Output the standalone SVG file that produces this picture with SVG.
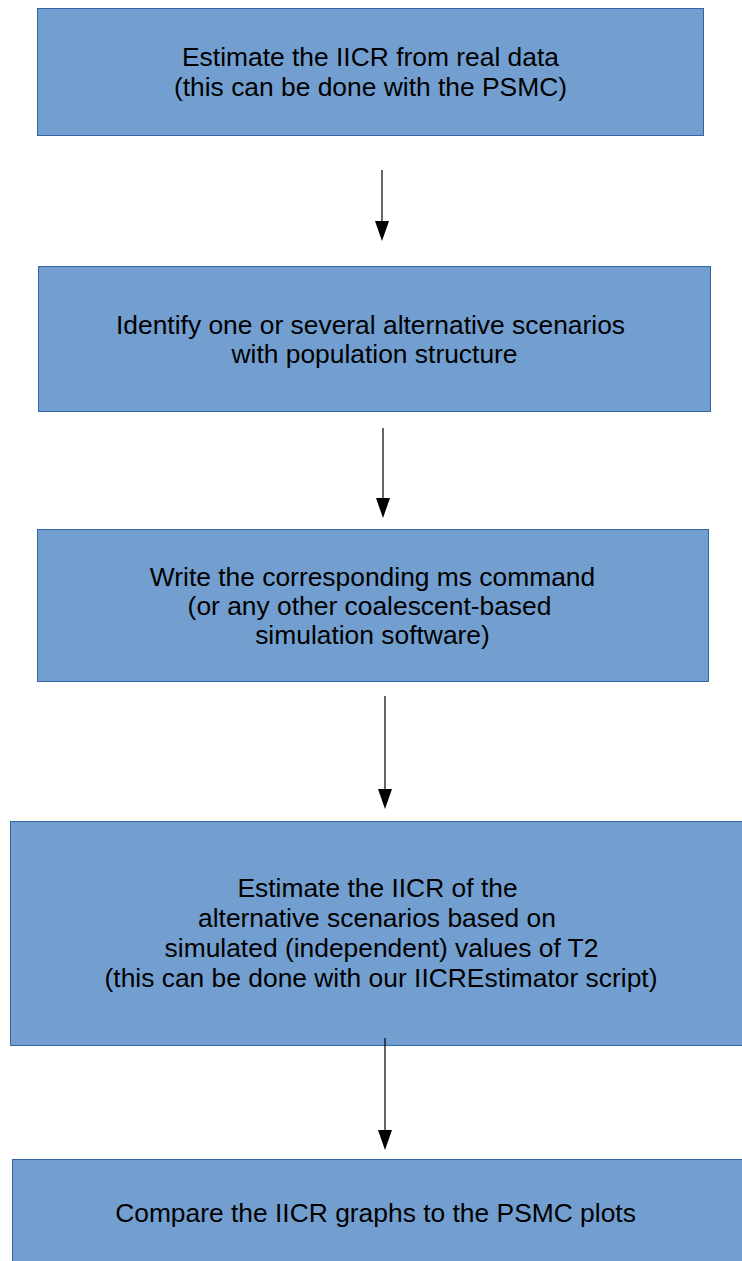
<svg xmlns="http://www.w3.org/2000/svg" width="742" height="1261" viewBox="0 0 742 1261">
  <style>
    .box { fill: #729fcf; stroke: #3465a4; stroke-width: 1; }
    .label { font-family: "Liberation Sans", Arial, sans-serif; font-size: 26.4px; fill: #000; text-anchor: middle; }
    .link { stroke: #000; stroke-width: 1.2; fill: none; }
    .head { fill: #000; }
  </style>
  <rect width="742" height="1261" fill="#fff"/>

  <g id="step-estimate-real">
    <rect class="box" x="37.5" y="8.5" width="666" height="127"/>
    <text class="label" x="370.5" y="66">Estimate the IICR from real data</text>
    <text class="label" x="370.5" y="96">(this can be done with the PSMC)</text>
  </g>

  <g id="step-scenarios">
    <rect class="box" x="38.5" y="266.5" width="672" height="145"/>
    <text class="label" x="370.5" y="334">Identify one or several alternative scenarios</text>
    <text class="label" x="374.5" y="363">with population structure</text>
  </g>

  <g id="step-ms-command">
    <rect class="box" x="37.5" y="529.5" width="671" height="152"/>
    <text class="label" x="372.5" y="586">Write the corresponding ms command</text>
    <text class="label" x="369.5" y="615">(or any other coalescent-based</text>
    <text class="label" x="372.5" y="644">simulation software)</text>
  </g>

  <g id="step-estimate-sim">
    <rect class="box" x="10.5" y="821.5" width="740" height="224"/>
    <text class="label" x="377.5" y="897">Estimate the IICR of the</text>
    <text class="label" x="377" y="927">alternative scenarios based on</text>
    <text class="label" x="381.5" y="957">simulated (independent) values of T2</text>
    <text class="label" x="381" y="987">(this can be done with our IICREstimator script)</text>
  </g>

  <g id="step-compare">
    <rect class="box" x="12.5" y="1159.5" width="740" height="120"/>
    <text class="label" x="375.5" y="1222">Compare the IICR graphs to the PSMC plots</text>
  </g>

  <g id="connectors">
    <line class="link" x1="382" y1="170" x2="382" y2="222"/>
    <polygon class="head" points="375,221 389,221 382,241"/>
    <line class="link" x1="383" y1="428" x2="383" y2="499"/>
    <polygon class="head" points="376,498 390,498 383,518"/>
    <line class="link" x1="385" y1="696" x2="385" y2="790"/>
    <polygon class="head" points="378,789 392,789 385,809"/>
    <line class="link" x1="385" y1="1038" x2="385" y2="1131"/>
    <polygon class="head" points="378,1130 392,1130 385,1150"/>
  </g>
</svg>
